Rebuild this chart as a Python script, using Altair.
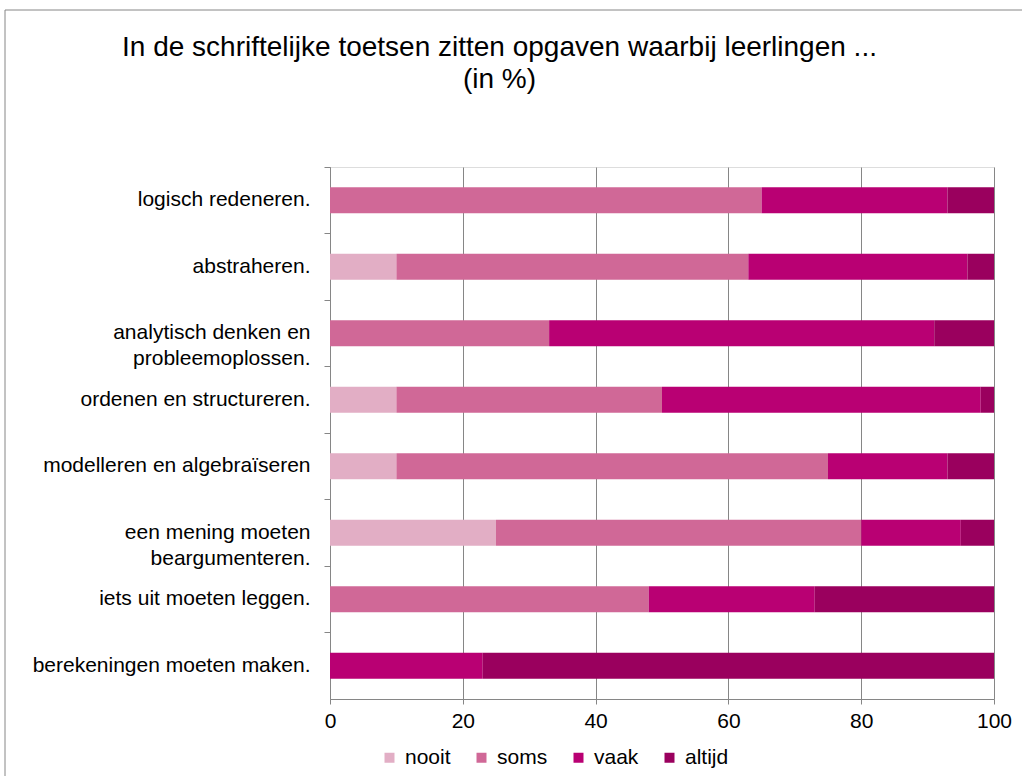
import altair as alt
import pandas as pd

categories = [
    "logisch redeneren.",
    "abstraheren.",
    "analytisch denken en\nprobleemoplossen.",
    "ordenen en structureren.",
    "modelleren en algebraïseren",
    "een mening moeten\nbeargumenteren.",
    "iets uit moeten leggen.",
    "berekeningen moeten maken.",
]
levels = ["nooit", "soms", "vaak", "altijd"]
nooit = [0, 10, 0, 10, 10, 25, 0, 0]
soms = [65, 53, 33, 40, 65, 55, 48, 0]
vaak = [28, 33, 58, 48, 18, 15, 25, 23]
altijd = [7, 4, 9, 2, 7, 5, 27, 77]
colors = ["#E2AEC5", "#D06897", "#B90073", "#9A005E"]
x_ticks = [0, 20, 40, 60, 80, 100]

series = {"nooit": nooit, "soms": soms, "vaak": vaak, "altijd": altijd}
rows = []
for cat_i, cat in enumerate(categories):
    for k, lev in enumerate(levels):
        rows.append({"cat": cat, "resp": lev, "val": series[lev][cat_i], "ord": k})
df = pd.DataFrame(rows)

FONT = "Liberation Sans"
GRAY = "#868686"

bars = alt.Chart(df).mark_bar(size=26).encode(
    y=alt.Y(
        "cat:N",
        sort=categories,
        scale=alt.Scale(paddingInner=0, paddingOuter=0),
        axis=alt.Axis(
            title=None,
            labelExpr="split(datum.label, '\\n')",
            labelFontSize=21,
            labelFont=FONT,
            labelColor="#000000",
            labelLineHeight=26,
            labelPadding=14,
            labelLimit=400,
            tickSize=6,
            bandPosition=0,
            domainColor=GRAY,
            tickColor=GRAY,
            grid=False,
        ),
    ),
    x=alt.X(
        "val:Q",
        stack="zero",
        scale=alt.Scale(domain=[0, 100], nice=False),
        axis=alt.Axis(
            title=None,
            values=x_ticks,
            grid=True,
            gridColor=GRAY,
            gridWidth=1,
            domainColor=GRAY,
            tickColor=GRAY,
            tickSize=5,
            labelFontSize=21,
            labelFont=FONT,
            labelColor="#000000",
            labelPadding=6,
            labelFlush=False,
        ),
    ),
    color=alt.Color(
        "resp:N",
        sort=levels,
        scale=alt.Scale(domain=levels, range=colors),
        legend=alt.Legend(
            title=None,
            orient="none",
            legendX=49,
            legendY=580,
            direction="horizontal",
            symbolType="square",
            symbolSize=100,
            symbolStrokeWidth=0,
            labelFontSize=21,
            labelFont=FONT,
            labelColor="#000000",
            labelOffset=5,
            columnPadding=20,
            padding=0,
        ),
    ),
    order=alt.Order("ord:Q"),
)

frame = alt.Chart(alt.Data(values=[{"a": 1}])).mark_rect(
    filled=False, stroke=GRAY, strokeWidth=1
).encode(
    x=alt.value(-325), x2=alt.value(720), y=alt.value(-157), y2=alt.value(640)
)

chart = alt.layer(bars, frame).properties(
    width=664,
    height=532,
    autosize=alt.AutoSizeParams(type="none"),
    padding={"left": 330, "top": 167, "right": 28, "bottom": 77},
    title=alt.TitleParams(
        ["In de schriftelijke toetsen zitten opgaven waarbij leerlingen ...", "(in %)"],
        anchor="start",
        align="center",
        dx=495,
        fontSize=28,
        font=FONT,
        fontWeight="normal",
        color="#000000",
        lineHeight=32,
        offset=-84,
    ),
).configure_view(stroke=None).configure(background="white")

chart.save("out.html", embed_options={"renderer": "svg", "actions": False})
